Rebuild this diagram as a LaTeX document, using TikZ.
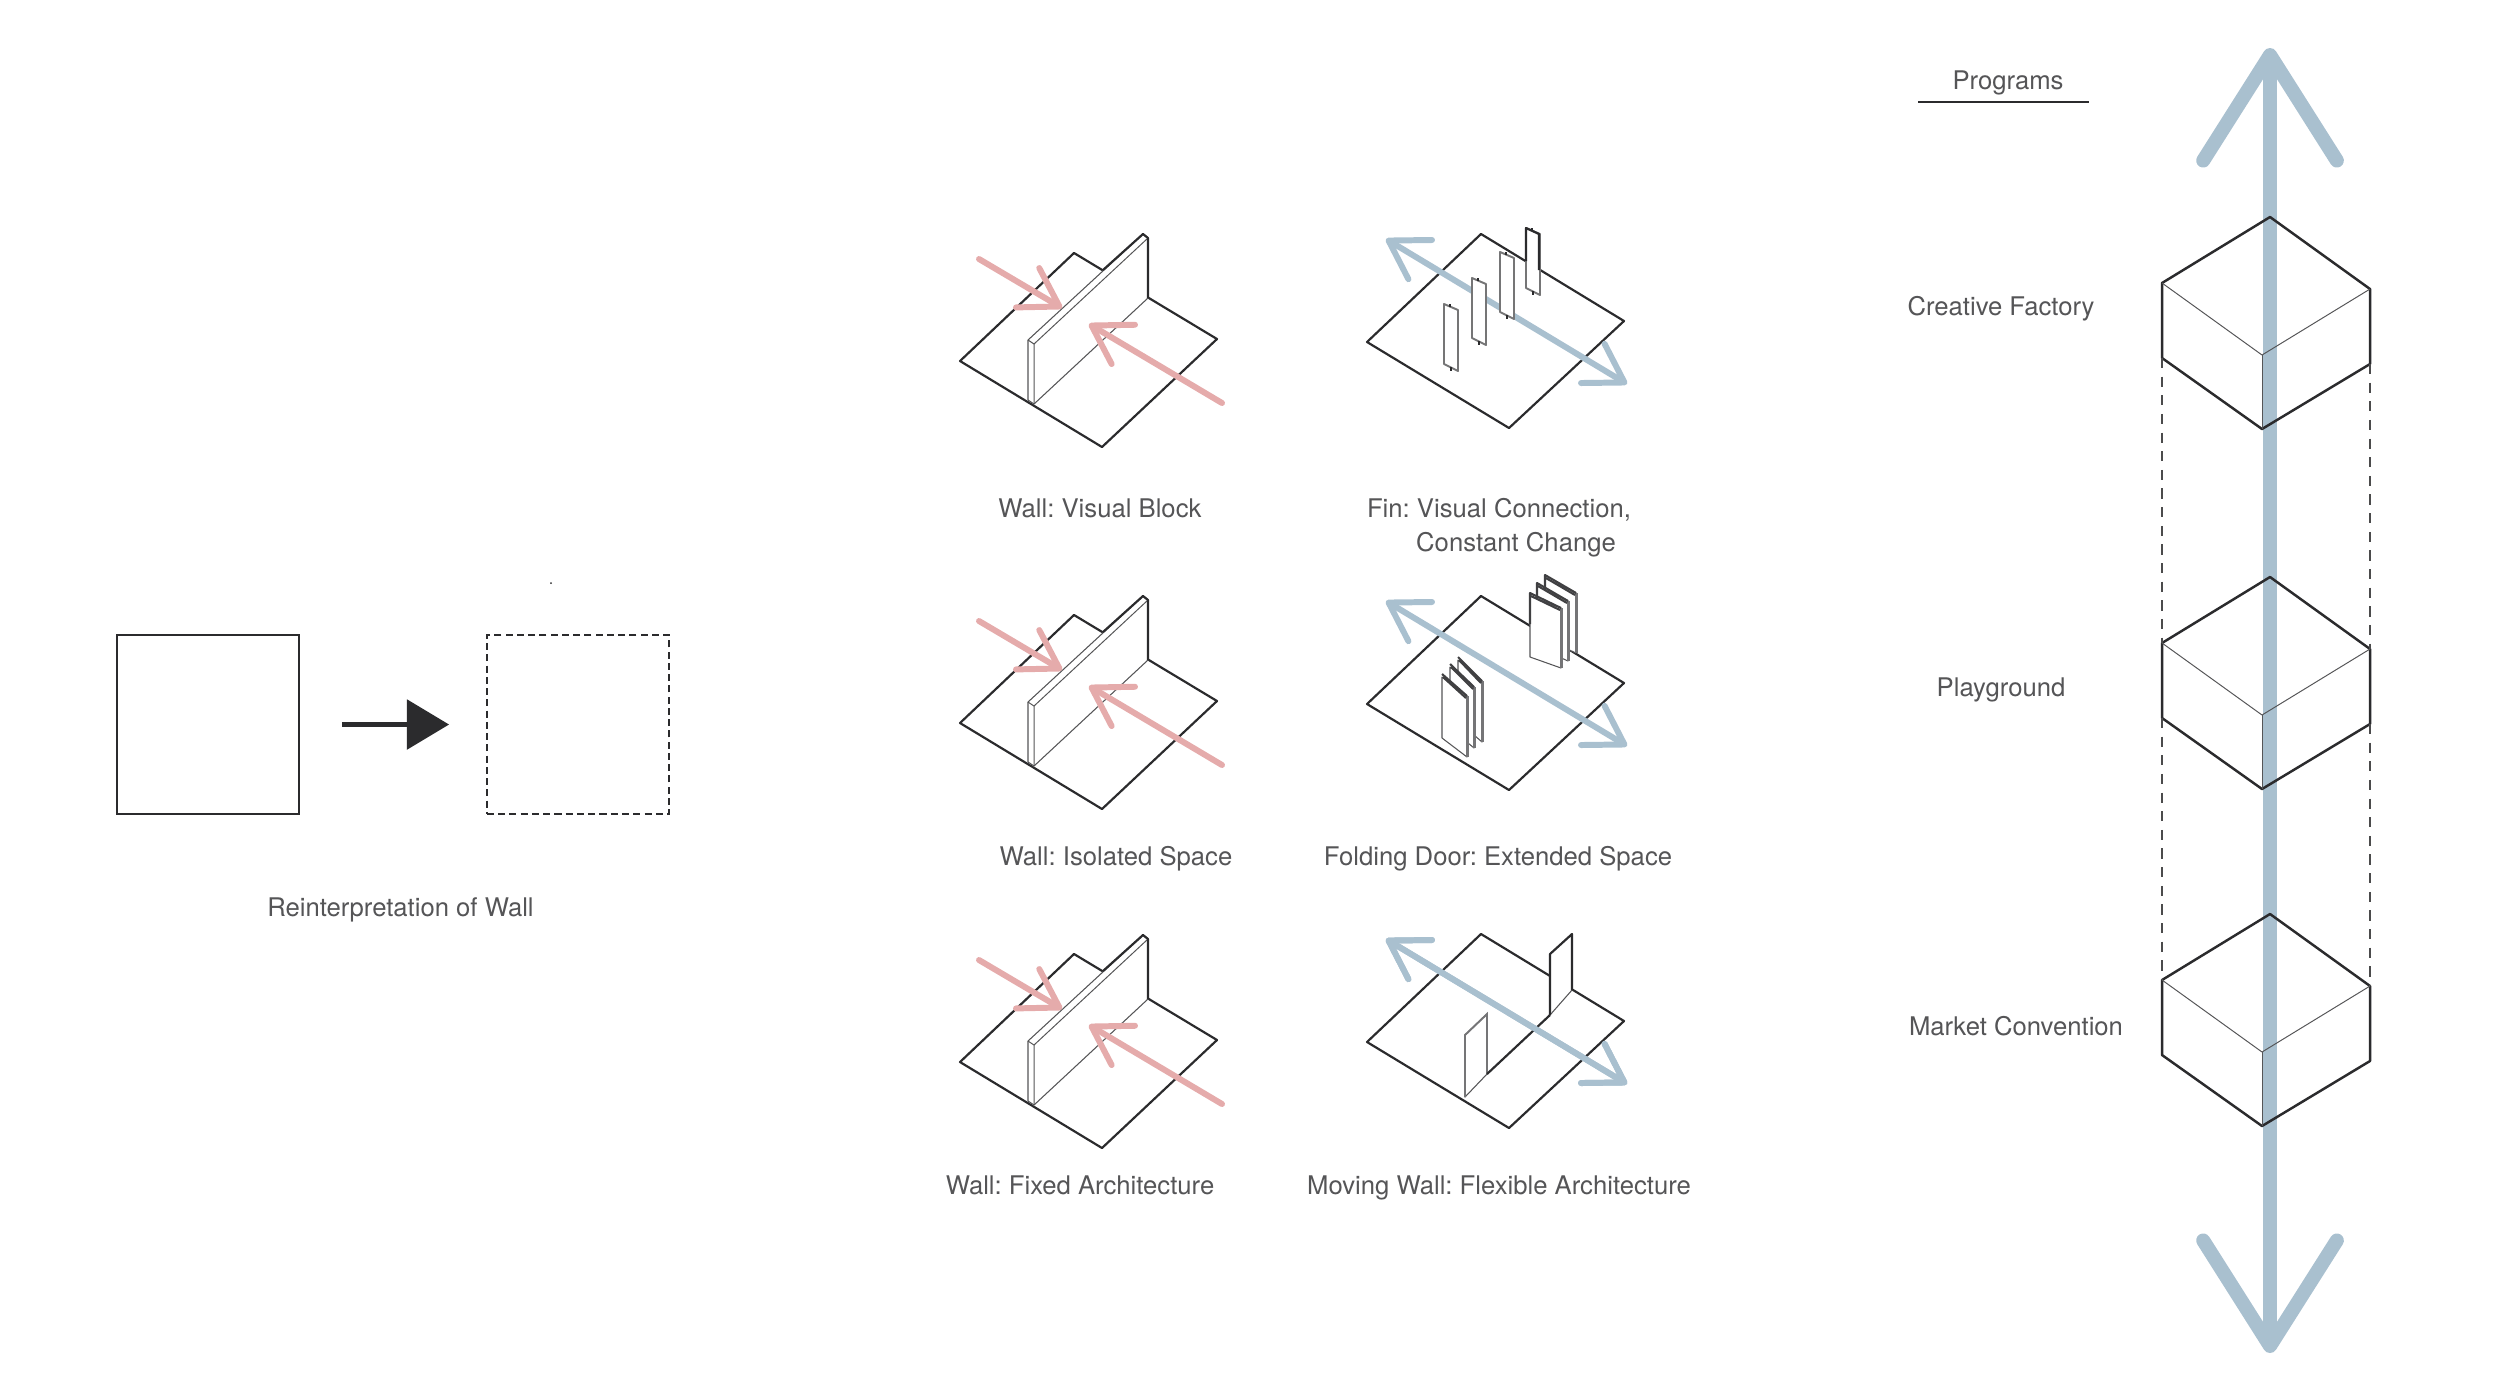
\documentclass[tikz,border=0pt]{standalone}
\usepackage{fontspec}
\setmainfont{TeX Gyre Heros}
\usetikzlibrary{arrows.meta}
\definecolor{ink}{HTML}{2B2B2D}
\definecolor{skyline}{HTML}{A9C0CF}
\definecolor{redline}{HTML}{E5ABAB}
\frenchspacing
\tikzset{
    lab/.style={font=\fontsize{7.3}{9}\selectfont, text=ink!80, inner sep=0pt, anchor=base},
    heavy/.style={draw=ink, line width=0.62pt, line join=round},
    fine/.style={draw=ink!80, line width=0.28pt, line join=round},
    redarrow/.style={draw=redline, line width=1.7pt, line cap=round,
        -{Straight Barb[length=10.5pt, width=13pt, round]}},
    bluearrow/.style={draw=skyline, line width=1.7pt, line cap=round,
        {Straight Barb[length=10.5pt, width=13pt, round]}-{Straight Barb[length=10.5pt, width=13pt, round]}},
    mainarrow/.style={draw=skyline, line width=4pt,
        {Straight Barb[length=30pt, width=38pt, round]}-{Straight Barb[length=30pt, width=38pt, round]}},
    leaf/.style={fill=white, draw=ink!80, line width=0.3pt, line join=round},
    leafedge/.style={draw=ink!90, line width=0.6pt, line join=round},
    finbox/.style={fill=white, draw=ink!65, line width=0.55pt, line join=round},
}
\begin{document}
\begin{tikzpicture}[x=0.01cm, y=-0.01cm]
    \useasboundingbox (0,0) rectangle (2500,1393);

    % left: solid wall becomes dashed wall
    \node[draw=ink, line width=0.7pt, minimum width=1.82cm, minimum height=1.79cm, inner sep=0pt] (solid) at (208,724.5) {};
    \node[draw=ink, line width=0.75pt, dash pattern=on 2pt off 1.2pt, minimum width=1.82cm, minimum height=1.79cm, inner sep=0pt] (open) at (578,724.5) {};
    \draw[draw=ink, line width=1.4pt, yshift=0.025cm, shorten <=0.415cm, shorten >=0.365cm, -{Triangle[length=12pt, width=14pt, fill=ink]}] (solid) -- (open);
    \node[lab] (reinterp) at (400.5,916) {Reinterpretation of Wall};
    \fill[ink] (551,583) circle (1);

    % wall column
    \foreach \dy [count=\n] in {0,362,701} {
        \begin{scope}[shift={(0,\dy)}]
            \coordinate (wleft\n) at (960,361);
            \coordinate (wlow\n) at (1102,447);
            \coordinate (wright\n) at (1217,339);
            \coordinate (wtop\n) at (1074,253);
            \draw[heavy] (wleft\n) -- (wlow\n) -- (wright\n) -- (wtop\n) -- cycle;
            \filldraw[leaf] (1028,340) -- (1143,234) -- (1148,238) -- (1148,298) -- (1034,404) -- (1028,400) -- cycle;
            \draw[fine] (1034,404) -- (1034,344) -- (1148,238);
            \draw[fine] (1034,344) -- (1028,340);
            \draw[heavy] (1103,270) -- (1143,234) -- (1148,238) -- (1148,298);
            \coordinate (rsa\n) at (979,259);
            \coordinate (rta\n) at (1062,308);
            \coordinate (rsb\n) at (1222,403);
            \coordinate (rtb\n) at (1089,324);
            \draw[redarrow] (rsa\n) -- (rta\n);
            \draw[redarrow] (rsb\n) -- (rtb\n);
        \end{scope}
    }

    % plates of the second column
    \foreach \dy [count=\n] in {0,362,700} {
        \begin{scope}[shift={(0,\dy)}]
            \coordinate (fleft\n) at (1367,342);
            \coordinate (flow\n) at (1509,428);
            \coordinate (fright\n) at (1624,321);
            \coordinate (ftop\n) at (1481,234);
            \coordinate (bsa\n) at (1386,239);
            \coordinate (bsb\n) at (1627,384);
            \draw[heavy] (fleft\n) -- (flow\n) -- (fright\n) -- (ftop\n) -- cycle;
            \draw[bluearrow] (bsa\n) -- (bsb\n);
        \end{scope}
    }

    % fins
    \foreach \fx/\fy in {1444/304, 1472/278, 1500/252, 1526/228} {
        \filldraw[finbox] (\fx,\fy) -- (\fx+14,\fy+6) -- (\fx+14,\fy+67) -- (\fx,\fy+60) -- cycle;
        \draw[ink, line width=0.5pt] (\fx+6,\fy) -- (\fx+6,\fy+3);
        \draw[ink, line width=0.5pt] (\fx+7,\fy+63) -- (\fx+7,\fy+67);
    }
    \draw[heavy] (1526,261) -- (1526,228) -- (1539,234) -- (1539,270);

    % folding doors
    \foreach \ax/\ay/\bx/\by in {1458/660/1482/681, 1450/667/1474/687, 1442/677/1467/696} {
        \filldraw[leaf] (\ax,\ay) -- (\bx,\by) -- (\bx,\by+61) -- (\ax,\ay+61) -- cycle;
        \fill[ink!65] (\bx-1,\by) rectangle (\bx+2,\by+61);
        \draw[leafedge] (\ax,\ay-3) -- (\bx,\by);
        \draw[leafedge] (\ax+1,\ay) -- (\bx-1,\by+2);
    }
    \foreach \ax/\ay/\bx/\by in {1545/578/1576/593, 1537/586/1568/601, 1530/596/1561/608} {
        \filldraw[leaf] (\ax,\ay) -- (\bx,\by) -- (\bx,\by+60) -- (\ax,\ay+61) -- cycle;
        \fill[ink!65] (\bx-1,\by) rectangle (\bx+2,\by+60);
        \draw[leafedge] (\ax,\ay+28) -- (\ax,\ay-3) -- (\bx,\by);
        \draw[leafedge] (\ax+1,\ay) -- (\bx-1,\by+2);
    }

    % moving walls
    \filldraw[leaf] (1550,954) -- (1572,934) -- (1572,990) -- (1550,1015) -- cycle;
    \draw[heavy] (1550,1015) -- (1550,954) -- (1572,934) -- (1572,990);
    \filldraw[leaf] (1465,1035) -- (1487,1014) -- (1487,1074) -- (1465,1097) -- cycle;
    \draw[ink!65, line width=0.55pt] (1465,1097) -- (1465,1035) -- (1487,1014) -- (1487,1074);
    \draw[heavy] (1487,1074) -- (1550,1015);
    \draw[bluearrow] (bsa3) -- (bsb3);

    % labels of the two columns
    \node[lab] (visblock) at (1100,517) {Wall: Visual Block};
    \node[lab] (visconn) at (1499,517) {Fin: Visual Connection,};
    \node[lab] (change) at (1516,551) {Constant Change};
    \node[lab] (isolated) at (1116,865) {Wall: Isolated Space};
    \node[lab] (extended) at (1498,865) {Folding Door: Extended Space};
    \node[lab] (fixed) at (1080,1194.5) {Wall: Fixed Architecture};
    \node[lab] (flexible) at (1499,1194.5) {Moving Wall: Flexible Architecture};

    % programs axis
    \coordinate (axtop) at (2270,48);
    \coordinate (axlow) at (2270,1353);
    \draw[mainarrow] (axlow) -- (axtop);
    \foreach \dy [count=\n] in {0,360,697} {
        \begin{scope}[shift={(0,\dy)}]
            \coordinate (hxtop\n) at (2270,217);
            \coordinate (hxul\n) at (2162,283);
            \coordinate (hxll\n) at (2162,358);
            \coordinate (hxlow\n) at (2262,429);
            \coordinate (hxlr\n) at (2370,364);
            \coordinate (hxur\n) at (2370,289);
            \coordinate (hxmid\n) at (2262,355);
            \draw[heavy, line width=0.7pt] (hxtop\n) -- (hxul\n) -- (hxll\n) -- (hxlow\n) -- (hxlr\n) -- (hxur\n) -- cycle;
            \draw[fine] (hxul\n) -- (hxmid\n) -- (hxur\n);
            \draw[fine] (hxmid\n) -- (hxlow\n);
        \end{scope}
    }
    \draw[ink!85, line width=0.45pt, dash pattern=on 2.9pt off 2.4pt] (hxll1) -- (hxul2);
    \draw[ink!85, line width=0.45pt, dash pattern=on 2.9pt off 2.4pt] (hxll2) -- (hxul3);
    \draw[ink!85, line width=0.6pt, dash pattern=on 2.9pt off 2.4pt] (hxlr1) -- (hxur2);
    \draw[ink!85, line width=0.6pt, dash pattern=on 2.9pt off 2.4pt] (hxlr2) -- (hxur3);

    \node[lab] (programs) at (2008,89) {Programs};
    \coordinate (ruleleft) at (1918,102);
    \coordinate (ruleright) at (2089,102);
    \draw[ink, line width=0.45pt] (ruleleft) -- (ruleright);
    \node[lab] (creative) at (2001,315) {Creative Factory};
    \node[lab] (playground) at (2001,696) {Playground};
    \node[lab] (market) at (2016,1035) {Market Convention};
\end{tikzpicture}
\end{document}
